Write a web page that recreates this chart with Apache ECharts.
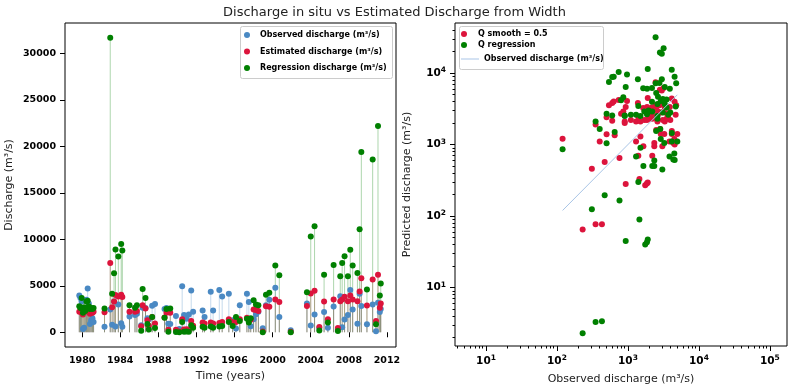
<!DOCTYPE html>
<html><head><meta charset="utf-8">
<script src="https://cdn.jsdelivr.net/npm/echarts@6/dist/echarts.min.js"></script>
<style>html,body{margin:0;padding:0;background:#fff}#c{width:789px;height:390px}</style>
</head><body><div id="c"></div>
<script>
// ---- data ----
const years = [1979.70,1979.82,1979.95,1980.08,1980.20,1980.32,1980.45,1980.58,1980.70,1980.82,1980.95,1981.08,1981.20,
  1982.35,1982.95,1983.15,1983.35,1983.50,1983.80,1984.10,1984.22,
  1984.97,1985.55,1985.75,1986.20,1986.35,1986.65,1986.85,1987.00,1987.35,1987.65,
  1988.65,1988.85,1989.05,1989.25,1989.85,1990.20,1990.50,1990.70,1990.95,1991.20,1991.45,1991.65,
  1992.65,1992.85,1993.50,1993.75,1994.40,1994.70,1995.40,1995.80,1996.15,1996.55,1997.30,1997.50,1997.70,
  1998.00,1998.25,1998.50,1998.96,1999.30,1999.65,2000.28,2000.70,2001.90,2003.60,
  2004.00,2004.40,2004.90,2005.40,2005.80,2006.40,2006.85,2007.10,2007.30,2007.55,2007.90,2008.15,2008.40,
  2008.90,2009.13,2009.31,2009.90,2010.50,2010.85,2011.06,2011.25,2011.35];
const observed = [3950,3700,3300,350,500,2600,3500,4700,3100,900,1300,1500,1100,
  600,2450,800,3300,630,3000,970,600,
  1700,1850,2000,760,2650,2600,1500,1400,2850,3050,
  2500,2600,930,900,1750,350,4960,1850,1450,1900,4500,2200,
  2350,1650,4350,2350,4550,3850,4150,1300,400,2900,4150,3250,650,
  1400,1950,2200,430,2900,3500,4780,1640,230,3100,
  740,1900,470,2180,500,2780,310,3890,540,1380,1860,4540,2460,
  930,4140,2820,860,3000,120,3180,2180,2500];
const estimated = [2200,2300,2100,1900,2400,2200,2300,2600,2200,2000,2100,2100,2200,
  2150,7450,2700,3300,4000,3850,4050,3800,
  2200,2200,2300,650,2900,2550,1300,700,1650,950,
  1600,2100,280,2100,270,77,1400,285,330,295,1200,700,
  1050,950,1050,950,1000,1100,1400,1100,1100,1400,1550,1400,1350,
  2450,2400,2300,77,2800,2750,3530,3250,65,2820,
  4180,4460,570,3320,1390,3530,460,3350,3530,3820,3350,3960,3530,
  3350,4400,5820,2890,5680,1210,6180,2640,3100];
const regression = [2800,2600,3700,2100,2700,2300,3300,3400,2800,2500,2600,2500,2600,
  2550,31700,4150,6350,8900,8150,9500,8800,
  2900,2650,2900,165,4650,3700,900,300,1650,450,
  1550,2500,45,2550,40,3.3,1100,43,90,47,750,500,
  600,500,620,500,610,680,1100,680,1650,1200,1450,1050,1500,
  3450,3000,2900,3.4,4050,4250,7180,6140,2.3,4320,
  10300,11400,195,6180,1040,7250,125,6030,7460,8180,6030,8890,7180,
  6390,11100,19400,4600,18600,860,22200,3960,5250];
const yearTicks = [1980,1984,1988,1992,1996,2000,2004,2008,2012];
const dischargeTicks = [0,5000,10000,15000,20000,25000,30000];
const logTicksX = [10,100,1000,10000,100000];
const logTicksY = [10,100,1000,10000];

// ---- styling ----
const BLUE = '#4a89c3', RED = '#dc143c', GREEN = '#008000', LINEBLUE = '#a9c5e6';
const FONT = 'DejaVu Sans';

function minorTicks(lo, hi) {
  const out = [];
  for (let n = -1; n <= 6; n++) for (let k = 2; k <= 9; k++) {
    const v = k * Math.pow(10, n);
    if (v > lo && v < hi) out.push(v);
  }
  return out;
}
const xLogMin = 3.66, xLogMax = 174000, yLogMin = 1.53, yLogMax = 50000;

function stem(name, vals, color, z) {
  return {
    type: 'custom', name: name, xAxisIndex: 0, yAxisIndex: 0, silent: true, z: z,
    data: years.map((y, i) => [y, vals[i]]),
    renderItem(params, api) {
      const p0 = api.coord([api.value(0), 0]);
      const p1 = api.coord([api.value(0), api.value(1)]);
      return { type: 'line', shape: { x1: p0[0], y1: p0[1], x2: p1[0], y2: p1[1] },
        style: { stroke: color, lineWidth: 1, opacity: 0.32 } };
    }
  };
}
function pts(name, vals, color, z) {
  return { type: 'scatter', name: name, xAxisIndex: 0, yAxisIndex: 0, z: z,
    symbol: 'circle', symbolSize: 6, itemStyle: { color: color, opacity: 1 },
    data: years.map((y, i) => [y, vals[i]]) };
}
const tickLabel = { fontFamily: FONT, fontSize: 9.5, fontWeight: 'bold', color: '#000' };
const logLabel = {
  fontFamily: FONT, color: '#000',
  formatter: v => '{b|10}{s|' + Math.round(Math.log10(v)) + '}',
  rich: { b: { fontFamily: FONT, fontSize: 10.5, fontWeight: 'bold', color: '#000' },
          s: { fontFamily: FONT, fontSize: 7.5, fontWeight: 'bold', color: '#000', verticalAlign: 'top', padding: [0, 0, 6, 0] } }
};
const nameStyle = { fontFamily: FONT, fontSize: 11, color: '#222' };
const tick = (len) => ({ show: true, length: len, lineStyle: { color: '#000', width: 1 } });

const obsMin = Math.min(...observed), obsMax = Math.max(...observed);

const option = {
  animation: false,
  backgroundColor: '#fff',
  textStyle: { fontFamily: FONT },
  title: { text: 'Discharge in situ vs Estimated Discharge from Width', left: 'center', top: 1,
    textStyle: { fontFamily: FONT, fontSize: 13, fontWeight: 'normal', color: '#222' } },
  grid: [
    { left: 65, top: 23, width: 331, height: 324, show: true, borderColor: '#000', borderWidth: 1, backgroundColor: 'transparent' },
    { left: 455, top: 23, width: 332, height: 324, show: true, borderColor: '#000', borderWidth: 1, backgroundColor: 'transparent' }
  ],
  xAxis: [
    { type: 'value', gridIndex: 0, min: 1978.2, max: 2012.95, position: 'bottom',
      name: 'Time (years)', nameLocation: 'middle', nameGap: 21, nameTextStyle: nameStyle,
      axisLine: { show: false }, splitLine: { show: false },
      axisTick: Object.assign(tick(5), { customValues: yearTicks }),
      axisLabel: Object.assign({ margin: 9, customValues: yearTicks, formatter: v => String(v) }, tickLabel) },
    { type: 'log', gridIndex: 1, min: xLogMin, max: xLogMax, position: 'bottom',
      name: 'Observed discharge (m³/s)', nameLocation: 'middle', nameGap: 28, nameTextStyle: nameStyle,
      axisLine: { show: false }, splitLine: { show: false }, minorTick: { show: false },
      axisTick: Object.assign(tick(5), { customValues: logTicksX }),
      axisLabel: Object.assign({ margin: 8, customValues: logTicksX }, logLabel) },
    { type: 'log', gridIndex: 1, min: xLogMin, max: xLogMax, position: 'bottom',
      axisLine: { show: false }, splitLine: { show: false }, axisLabel: { show: false },
      axisTick: Object.assign(tick(2.5), { customValues: minorTicks(xLogMin, xLogMax) }) }
  ],
  yAxis: [
    { type: 'value', gridIndex: 0, min: -1585, max: 33285, position: 'left',
      name: 'Discharge (m³/s)', nameLocation: 'middle', nameGap: 50, nameTextStyle: nameStyle,
      axisLine: { show: false }, splitLine: { show: false },
      axisTick: Object.assign(tick(5), { customValues: dischargeTicks }),
      axisLabel: Object.assign({ margin: 9, customValues: dischargeTicks, formatter: v => String(v) }, tickLabel) },
    { type: 'log', gridIndex: 1, min: yLogMin, max: yLogMax, position: 'left',
      name: 'Predicted discharge (m³/s)', nameLocation: 'middle', nameGap: 42, nameTextStyle: nameStyle,
      axisLine: { show: false }, splitLine: { show: false }, minorTick: { show: false },
      axisTick: Object.assign(tick(5), { customValues: logTicksY }),
      axisLabel: Object.assign({ margin: 9, customValues: logTicksY }, logLabel) },
    { type: 'log', gridIndex: 1, min: yLogMin, max: yLogMax, position: 'left',
      axisLine: { show: false }, splitLine: { show: false }, axisLabel: { show: false },
      axisTick: Object.assign(tick(2.5), { customValues: minorTicks(yLogMin, yLogMax) }) }
  ],
  legend: [
    { left: 244, top: 30, orient: 'vertical', padding: 0, itemGap: 6.5, itemWidth: 16, itemHeight: 6,
      data: ['Observed discharge (m³/s)', 'Estimated discharge (m³/s)', 'Regression discharge (m³/s)'],
      textStyle: { fontFamily: FONT, fontSize: 8, fontWeight: 'bold', color: '#000', lineHeight: 10 } },
    { left: 461, top: 29, orient: 'vertical', padding: 0, itemGap: 1, itemWidth: 18, itemHeight: 6,
      data: ['Q smooth = 0.5', 'Q regression'],
      textStyle: { fontFamily: FONT, fontSize: 8, fontWeight: 'bold', color: '#000', lineHeight: 10 } },
    { left: 461, top: 54, orient: 'vertical', padding: 0, itemWidth: 18, itemHeight: 1, icon: 'rect',
      data: [{ name: 'Observed discharge line', icon: 'rect' }],
      formatter: () => 'Observed discharge (m³/s)',
      textStyle: { fontFamily: FONT, fontSize: 8, fontWeight: 'bold', color: '#000', lineHeight: 10 } }
  ],
  graphic: [
    { type: 'rect', z: 3, shape: { x: 240.5, y: 26.5, width: 152, height: 52, r: 2 },
      style: { fill: 'rgba(255,255,255,0.8)', stroke: '#cccccc', lineWidth: 1 } },
    { type: 'rect', z: 3, shape: { x: 459.5, y: 26.5, width: 144, height: 43, r: 2 },
      style: { fill: 'rgba(255,255,255,0.8)', stroke: '#cccccc', lineWidth: 1 } }
  ],
  series: [
    stem('obs_stem', observed, BLUE, 1),
    pts('Observed discharge (m³/s)', observed, BLUE, 2),
    stem('est_stem', estimated, RED, 1),
    pts('Estimated discharge (m³/s)', estimated, RED, 2),
    stem('reg_stem', regression, GREEN, 1),
    pts('Regression discharge (m³/s)', regression, GREEN, 2),
    { type: 'scatter', name: 'Q smooth = 0.5', xAxisIndex: 1, yAxisIndex: 1, z: 2,
      symbol: 'circle', symbolSize: 6, itemStyle: { color: RED, opacity: 1 },
      data: observed.map((o, i) => [o, estimated[i]]) },
    { type: 'scatter', name: 'Q regression', xAxisIndex: 1, yAxisIndex: 1, z: 2,
      symbol: 'circle', symbolSize: 6, itemStyle: { color: GREEN, opacity: 1 },
      data: observed.map((o, i) => [o, regression[i]]) },
    { type: 'line', name: 'Observed discharge line', xAxisIndex: 1, yAxisIndex: 1, z: 3,
      symbol: 'none', showSymbol: false, lineStyle: { color: LINEBLUE, width: 1 }, itemStyle: { color: LINEBLUE },
      data: [[obsMin, obsMin], [obsMax, obsMax]] }
  ]
};
const chart = echarts.init(document.getElementById('c'));
chart.setOption(option);
</script></body></html>
